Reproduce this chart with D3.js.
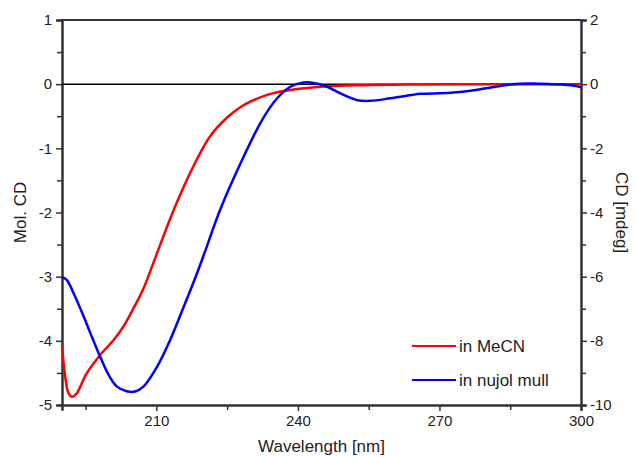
<!DOCTYPE html>
<html>
<head>
<meta charset="utf-8">
<script src="https://cdn.jsdelivr.net/npm/d3@7"></script>
<style>
  body { margin: 0; background: #fff; }
  svg text { font-family: "Liberation Sans", Arial, sans-serif; fill: #222; }
</style>
</head>
<body>
<svg id="chart" width="635" height="457"></svg>
<script>
// MeCN solution, Mol. CD (left axis)
const mecnWl = [190, 190.6, 191.3, 192.1, 193.1, 195.2, 198.1, 200.9, 203.0, 205.1, 207.3, 209.4, 212.9, 215.8, 218.6, 221.4, 225.0, 227.8, 230, 234, 238.4, 244.8, 254, 264, 280, 300];
const mecnCD = [-4.07, -4.51, -4.80, -4.87, -4.82, -4.51, -4.22, -3.99, -3.78, -3.50, -3.18, -2.78, -2.10, -1.60, -1.17, -0.81, -0.52, -0.36, -0.27, -0.155, -0.09, -0.04, -0.015, -0.005, 0, 0];

// nujol mull, CD in mdeg (right axis)
const nujolWl = [190, 191, 192.4, 194.2, 195.9, 198.1, 199.8, 201.6, 203.7, 205.5, 207.3, 210.1, 212.9, 215.8, 218.6, 220.4, 223.5, 227.8, 232.4, 235.6, 238.4, 241.2, 242.7, 246.2, 249.0, 252.6, 255.4, 259.6, 264, 266, 272.4, 278.7, 285.1, 289.4, 293.6, 298.6, 300];
const nujolCD = [-6.02, -6.10, -6.50, -7.10, -7.72, -8.50, -9.04, -9.42, -9.57, -9.58, -9.42, -8.82, -7.98, -6.94, -5.90, -5.18, -3.92, -2.48, -1.12, -0.44, -0.08, 0.05, 0.05, -0.08, -0.29, -0.50, -0.52, -0.44, -0.34, -0.30, -0.27, -0.16, -0.01, 0.02, 0, -0.05, -0.10];

const xTicks = [210, 240, 270, 300];
const xMinor = [195, 225, 255, 285];
const yLeftTicks = [1, 0, -1, -2, -3, -4, -5];
const yLeftMinor = [0.5, -0.5, -1.5, -2.5, -3.5, -4.5];
const yRightTicks = [2, 0, -2, -4, -6, -8, -10];
const yRightMinor = [1, -1, -3, -5, -7, -9];

const seriesNames = ["in MeCN", "in nujol mull"];
const seriesColors = ["#ff0000", "#0000ff"];

const margin = { top: 20, right: 54, bottom: 52, left: 62 };
const width = 635 - margin.left - margin.right;
const height = 457 - margin.top - margin.bottom;

const svg = d3.select("#chart");
const g = svg.append("g").attr("transform", `translate(${margin.left},${margin.top})`);

const x = d3.scaleLinear().domain([190, 300]).range([0, width]);
const yL = d3.scaleLinear().domain([-5, 1]).range([height, 0]);
const yR = d3.scaleLinear().domain([-10, 2]).range([height, 0]);

const fmt = (d) => String(d);
const axisColor = "#333";

function styleAxis(sel) {
  sel.select(".domain").attr("stroke", axisColor).attr("stroke-width", 2);
  sel.selectAll(".tick line").attr("stroke", axisColor).attr("stroke-width", 1.5);
  sel.selectAll(".tick text").style("font-size", "15px").attr("fill", "#222");
}

// minor ticks
g.append("g").attr("transform", `translate(0,${height})`)
  .call(d3.axisBottom(x).tickValues(xMinor).tickSize(5).tickFormat(""))
  .call(styleAxis);
g.append("g")
  .call(d3.axisLeft(yL).tickValues(yLeftMinor).tickSize(5).tickFormat(""))
  .call(styleAxis);
g.append("g").attr("transform", `translate(${width},0)`)
  .call(d3.axisRight(yR).tickValues(yRightMinor).tickSize(5).tickFormat(""))
  .call(styleAxis);

// major axes
g.append("g").attr("transform", `translate(0,${height})`)
  .call(d3.axisBottom(x).tickValues(xTicks).tickSize(6).tickPadding(4).tickFormat(fmt))
  .call(styleAxis);
g.append("g")
  .call(d3.axisLeft(yL).tickValues(yLeftTicks).tickSize(6).tickPadding(4).tickFormat(fmt))
  .call(styleAxis);
g.append("g").attr("transform", `translate(${width},0)`)
  .call(d3.axisRight(yR).tickValues(yRightTicks).tickSize(6).tickPadding(3).tickFormat(fmt))
  .call(styleAxis);

// top frame
g.append("line")
  .attr("x1", 0).attr("x2", width).attr("y1", 0).attr("y2", 0)
  .attr("stroke", axisColor).attr("stroke-width", 2);

// zero line
g.append("line")
  .attr("x1", 0).attr("x2", width).attr("y1", yL(0)).attr("y2", yL(0))
  .attr("stroke", "#000").attr("stroke-width", 1.5);

// curves
const lineL = d3.line().x((d) => x(d[0])).y((d) => yL(d[1])).curve(d3.curveCatmullRom.alpha(0.5));
const lineR = d3.line().x((d) => x(d[0])).y((d) => yR(d[1])).curve(d3.curveCatmullRom.alpha(0.5));

g.append("path")
  .datum(d3.zip(mecnWl, mecnCD))
  .attr("d", lineL)
  .attr("fill", "none")
  .attr("stroke", seriesColors[0])
  .attr("stroke-width", 2.5);

g.append("path")
  .datum(d3.zip(nujolWl, nujolCD))
  .attr("d", lineR)
  .attr("fill", "none")
  .attr("stroke", seriesColors[1])
  .attr("stroke-width", 2.5);

// legend
const legend = g.append("g").attr("transform", `translate(${412 - margin.left},${346 - margin.top})`);
seriesNames.forEach((name, i) => {
  const row = legend.append("g").attr("transform", `translate(0,${i * 34})`);
  row.append("line")
    .attr("x1", 0).attr("x2", 44).attr("y1", 0).attr("y2", 0)
    .attr("stroke", seriesColors[i]).attr("stroke-width", 2);
  row.append("text")
    .attr("x", 47).attr("y", 6)
    .style("font-size", "17px")
    .text(name);
});

// axis titles
svg.append("text")
  .attr("transform", `translate(26,${margin.top + height / 2}) rotate(-90)`)
  .attr("text-anchor", "middle")
  .style("font-size", "17px")
  .text("Mol. CD");

svg.append("text")
  .attr("transform", `translate(616,${margin.top + height / 2}) rotate(90)`)
  .attr("text-anchor", "middle")
  .style("font-size", "17px")
  .text("CD [mdeg]");

svg.append("text")
  .attr("x", margin.left + width / 2)
  .attr("y", 452)
  .attr("text-anchor", "middle")
  .style("font-size", "17px")
  .text("Wavelength [nm]");
</script>
</body>
</html>
